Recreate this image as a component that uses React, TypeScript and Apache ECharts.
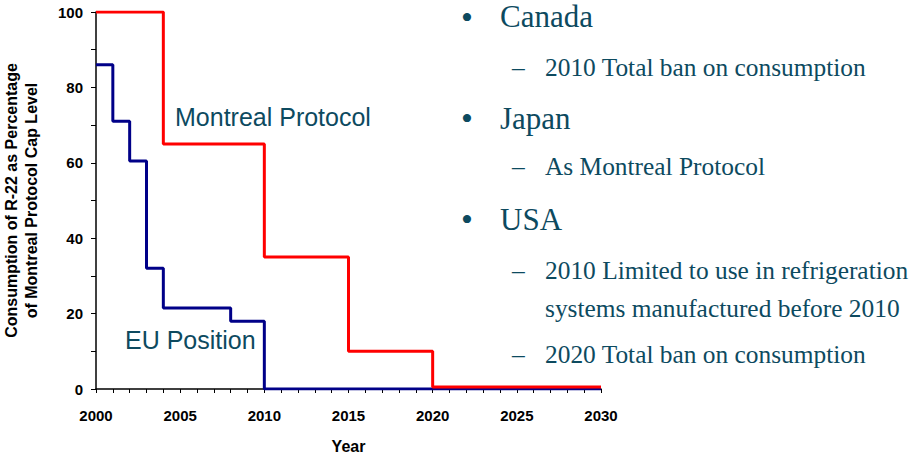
import React, { useEffect, useRef } from "react";
import * as echarts from "echarts";

const montrealData: [number, number][] = [
  [2000, 100], [2004, 65], [2010, 35], [2015, 10], [2020, 0.5], [2030, 0.5],
];
const euData: [number, number][] = [
  [2000, 86], [2001, 71], [2002, 60.5], [2003, 32], [2004, 21.5], [2008, 18], [2010, 0], [2030, 0],
];
const bullets = ["Canada", "Japan", "USA"];
const subItems = [
  "2010 Total ban on consumption",
  "As Montreal Protocol",
  "2010 Limited to use in refrigeration",
  "systems manufactured before 2010",
  "2020 Total ban on consumption",
];

const TEAL = "#0d4a5f";
const SERIF = "'Liberation Serif', 'Times New Roman', serif";
const SANS = "'Liberation Sans', Arial, sans-serif";

export default function App() {
  const ref = useRef<HTMLDivElement>(null);
  useEffect(() => {
    document.body.style.margin = "0";
    const chart = echarts.init(ref.current!, null, { renderer: "svg" });
    const HEAD = 31;
    const SUB = 25.4;
    const BUL = 34;
    const bulletC = [18, 120, 221];
    const subC = [69, 168, 272, 310, 356];
    const subDash = [true, true, true, false, true];
    const graphics: any[] = [];
    bullets.forEach((b, i) => {
      graphics.push({ type: "text", left: 461, top: Math.max(0.5, bulletC[i] - 0.53 * BUL), style: { text: "•", font: `${BUL}px ${SERIF}`, fill: TEAL } });
      graphics.push({ type: "text", left: 500, top: Math.max(0.5, bulletC[i] - 0.56 * HEAD), style: { text: b, font: `${HEAD}px ${SERIF}`, fill: TEAL } });
    });
    subItems.forEach((s, i) => {
      if (subDash[i]) {
        graphics.push({ type: "text", left: 512, top: subC[i] - 0.56 * SUB, style: { text: "–", font: `${SUB}px ${SERIF}`, fill: TEAL } });
      }
      graphics.push({ type: "text", left: 545, top: subC[i] - 0.56 * SUB, style: { text: s, font: `${SUB}px ${SERIF}`, fill: TEAL } });
    });
    graphics.push({ type: "text", left: 175, top: 104, style: { text: "Montreal Protocol", font: `25px ${SANS}`, fill: TEAL } });
    graphics.push({ type: "text", left: 125, top: 327, style: { text: "EU Position", font: `25px ${SANS}`, fill: TEAL } });

    chart.setOption({
      animation: false,
      grid: { left: 96, right: 309, top: 12, bottom: 67, containLabel: false, outerBoundsMode: "none" },
      xAxis: {
        type: "value", min: 2000, max: 2030, interval: 5,
        name: "Year", nameLocation: "middle", nameGap: 49,
        nameTextStyle: { fontFamily: SANS, fontWeight: "bold", fontSize: 16, color: "#000" },
        axisLine: { lineStyle: { color: "#000", width: 1.5 } },
        axisTick: { show: true, length: 4, lineStyle: { color: "#000" } },
        minorTick: { show: true, splitNumber: 5, length: 4, lineStyle: { color: "#000" } },
        axisLabel: {
          fontFamily: SANS, fontWeight: "bold", fontSize: 15, color: "#000", margin: 19,
          formatter: (v: number) => String(v),
        },
        splitLine: { show: false },
      },
      yAxis: {
        type: "value", min: 0, max: 100, interval: 20,
        name: "Consumption of R-22 as Percentage\nof Montreal Protocol Cap Level",
        nameLocation: "middle", nameRotate: 90, nameGap: 55,
        nameTextStyle: { fontFamily: SANS, fontWeight: "bold", fontSize: 16, color: "#000", lineHeight: 20 },
        axisLine: { show: true, lineStyle: { color: "#000", width: 1.5 } },
        axisTick: { show: true, length: 5, lineStyle: { color: "#000" } },
        minorTick: { show: true, splitNumber: 2, length: 5, lineStyle: { color: "#000" } },
        axisLabel: { fontFamily: SANS, fontWeight: "bold", fontSize: 15, color: "#000", margin: 13 },
        splitLine: { show: false },
      },
      series: [
        {
          type: "line", step: "end", data: euData, showSymbol: false,
          lineStyle: { color: "#000088", width: 3 }, z: 2,
        },
        {
          type: "line", step: "end", data: montrealData, showSymbol: false,
          lineStyle: { color: "#ff0000", width: 3 }, z: 3,
        },
      ],
      graphic: graphics,
    });
    return () => chart.dispose();
  }, []);
  return <div ref={ref} style={{ position: "absolute", left: 0, top: 0, width: 910, height: 456 }} />;
}
